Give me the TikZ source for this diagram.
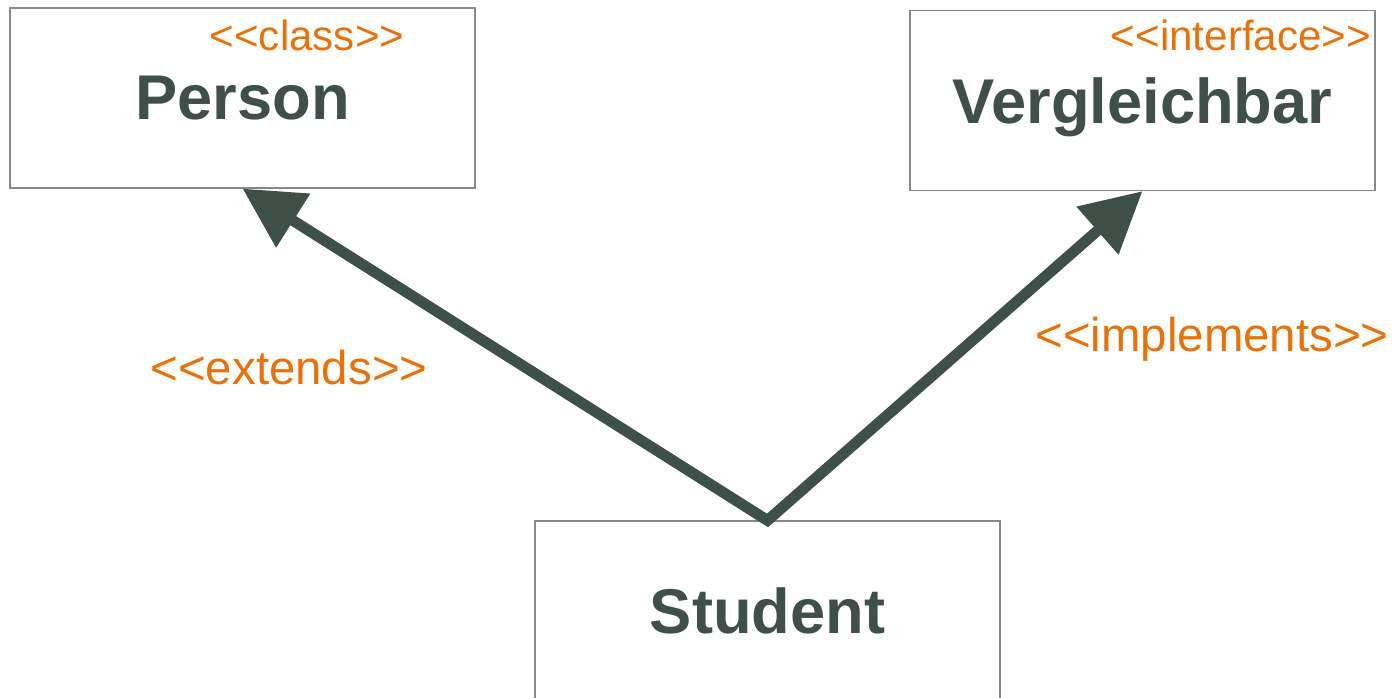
\documentclass[tikz,border=0pt]{standalone}
\usepackage{fontspec}
\setmainfont{Liberation Sans}
\usetikzlibrary{arrows.meta}

\definecolor{umldark}{HTML}{3F5048}
\definecolor{umlorange}{HTML}{E8710A}
\definecolor{umlframe}{HTML}{858A87}

\tikzset{
  classbox/.style={draw=umlframe, line width=0.7pt, minimum width=9.3cm, minimum height=3.6cm,
    inner sep=0pt, text depth=0pt, text=umldark, font=\fontsize{36}{40}\selectfont\bfseries},
  stereo/.style={text=umlorange, inner sep=0pt, anchor=base},
  relation/.style={umldark, line width=6.2pt, line join=miter,
    {Triangle[length=1.2cm, width=1.22cm]}-{Triangle[length=1.2cm, width=1.22cm]}}
}

\begin{document}
\begin{tikzpicture}[x=0.02cm, y=-0.02cm]
      \useasboundingbox (0,0) rectangle (1395,697);
      \node[classbox] (person) at (242.5,98) {Person};
      \node[classbox] (vergleich) at (1142.5,100.5) {Vergleichbar};
      \node[classbox] (student) at (767.5,611) {Student};
      \node[stereo, font=\fontsize{24}{28}\selectfont] (classlbl) at (307,50) {<{}<class>{}>};
      \node[stereo, font=\fontsize{24}{28}\selectfont] (ifacelbl) at (1241,50) {<{}<interface>{}>};
      \node[stereo, font=\fontsize{27}{31}\selectfont] (extlbl) at (289,384) {<{}<extends>{}>};
      \node[stereo, font=\fontsize{27}{31}\selectfont] (impllbl) at (1212,351) {<{}<implements>{}>};
      \draw[relation] (person.south) -- (student.north) -- (vergleich.south);
    \end{tikzpicture}
\end{document}
